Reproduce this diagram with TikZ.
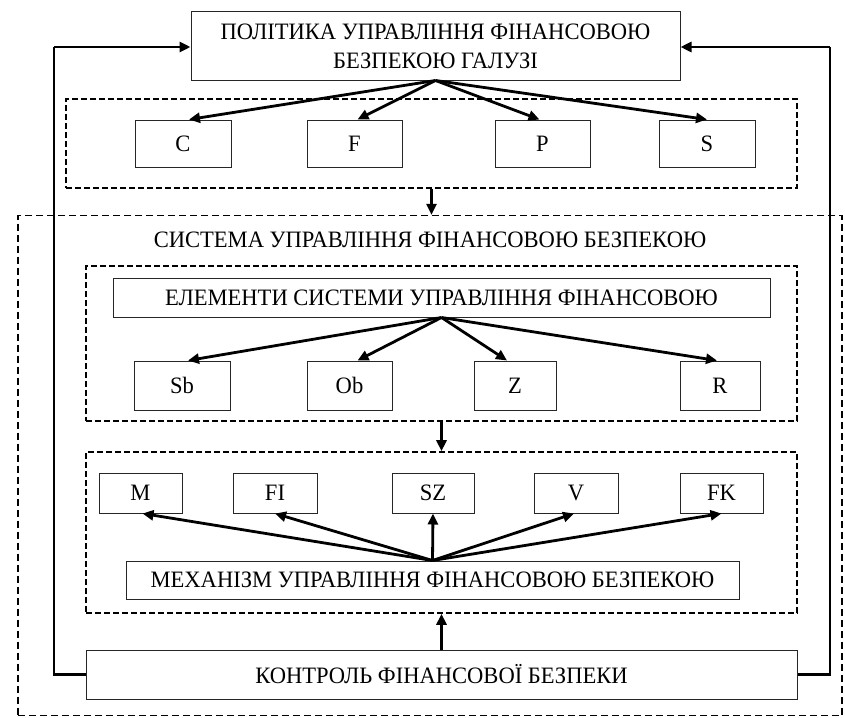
\documentclass[tikz,border=0pt]{standalone}
\usepackage{fontspec}
\setmainfont[FakeStretch=0.96]{Liberation Serif}
\usetikzlibrary{arrows.meta,calc}
\begin{document}
\begin{tikzpicture}[x=1pt,y=-1pt,
  box/.style={draw=black!85,line width=1pt,inner sep=0pt,align=center,font=\fontsize{23.5}{29}\selectfont},
  dbox/.style={draw,line width=1.6pt,dash pattern=on 6pt off 3pt,inner sep=0pt},
  bigdbox/.style={draw,line width=1.3pt,dash pattern=on 7pt off 4pt,inner sep=0pt},
  arr/.style={line width=2.8pt,-{Triangle[length=11pt,width=10pt]}},
  fb/.style={line width=2.8pt},
  lbl/.style={inner sep=0pt,font=\fontsize{23.5}{29}\selectfont}
]
\useasboundingbox (0,0) rectangle (845,717);
% containers
\node[bigdbox,minimum width=824pt,minimum height=500pt] (big) at (430,465.5) {};
\node[dbox,minimum width=731pt,minimum height=89pt] (d1) at (431.5,143.5) {};
\node[dbox,minimum width=711pt,minimum height=155pt] (d2) at (441.5,343.5) {};
\node[dbox,minimum width=711pt,minimum height=161pt] (d3) at (441.5,532.5) {};
% top
\node[box,minimum width=489pt,minimum height=68pt] (top) at (435.5,46) {ПОЛІТИКА УПРАВЛІННЯ ФІНАНСОВОЮ\\БЕЗПЕКОЮ ГАЛУЗІ};
\node[box,minimum width=96pt,minimum height=47pt] (C) at (183,143.5) {C};
\node[box,minimum width=95pt,minimum height=47pt] (F) at (354.5,143.5) {F};
\node[box,minimum width=95pt,minimum height=47pt] (P) at (542.5,143.5) {P};
\node[box,minimum width=96pt,minimum height=47pt] (S) at (707,143.5) {S};
% system
\node[lbl] (sys) at (430,240) {СИСТЕМА УПРАВЛІННЯ ФІНАНСОВОЮ БЕЗПЕКОЮ};
\node[box,minimum width=657pt,minimum height=39pt] (el) at (441.5,297.5) {ЕЛЕМЕНТИ СИСТЕМИ УПРАВЛІННЯ ФІНАНСОВОЮ};
\node[box,minimum width=96pt,minimum height=49pt] (Sb) at (182,385.5) {Sb};
\node[box,minimum width=85pt,minimum height=49pt] (Ob) at (349.5,385.5) {Ob};
\node[box,minimum width=82pt,minimum height=49pt] (Z) at (515,385.5) {Z};
\node[box,minimum width=80pt,minimum height=49pt] (R) at (720,385.5) {R};
% mechanism
\node[box,minimum width=83pt,minimum height=40pt] (M) at (140.5,493) {M};
\node[box,minimum width=84pt,minimum height=40pt] (FI) at (275,493) {FI};
\node[box,minimum width=82pt,minimum height=40pt] (SZ) at (433,493) {SZ};
\node[box,minimum width=84pt,minimum height=40pt] (V) at (576,493) {V};
\node[box,minimum width=83pt,minimum height=40pt] (FK) at (721.5,493) {FK};
\node[box,minimum width=613pt,minimum height=38pt] (mech) at (432.5,580) {МЕХАНІЗМ УПРАВЛІННЯ ФІНАНСОВОЮ БЕЗПЕКОЮ};
\node[box,minimum width=711pt,minimum height=49pt] (ctrl) at (441.5,674.5) {КОНТРОЛЬ ФІНАНСОВОЇ БЕЗПЕКИ};
% arrows top
\foreach \t/\dx in {C/6,F/3,P/-3,S/0}
  \draw[arr] (top.south) -- ($(\t.north)+(\dx,0)$);
\draw[arr] (d1.south) -- (d1.south |- big.north);
% elements
\foreach \t/\dx in {Sb/6,Ob/8,Z/-8,R/-3}
  \draw[arr] (el.south) -- ($(\t.north)+(\dx,0)$);
\draw[arr] (d2.south) -- (d3.north);
% mechanism
\foreach \t/\dx in {M/2,FI/0,SZ/0,V/-2,FK/0}
  \draw[arr] (mech.north) -- ($(\t.south)+(\dx,0)$);
\draw[arr] (ctrl.north) -- (d3.south);
% feedback
\coordinate (lc) at (54,47);
\coordinate (rc) at (830,47);
\draw[fb] (ctrl.west) -| (lc);
\draw[arr] (lc) -- (lc -| top.west);
\draw[fb] (ctrl.east) -| (rc);
\draw[arr] (rc) -- (rc -| top.east);
\end{tikzpicture}
\end{document}
